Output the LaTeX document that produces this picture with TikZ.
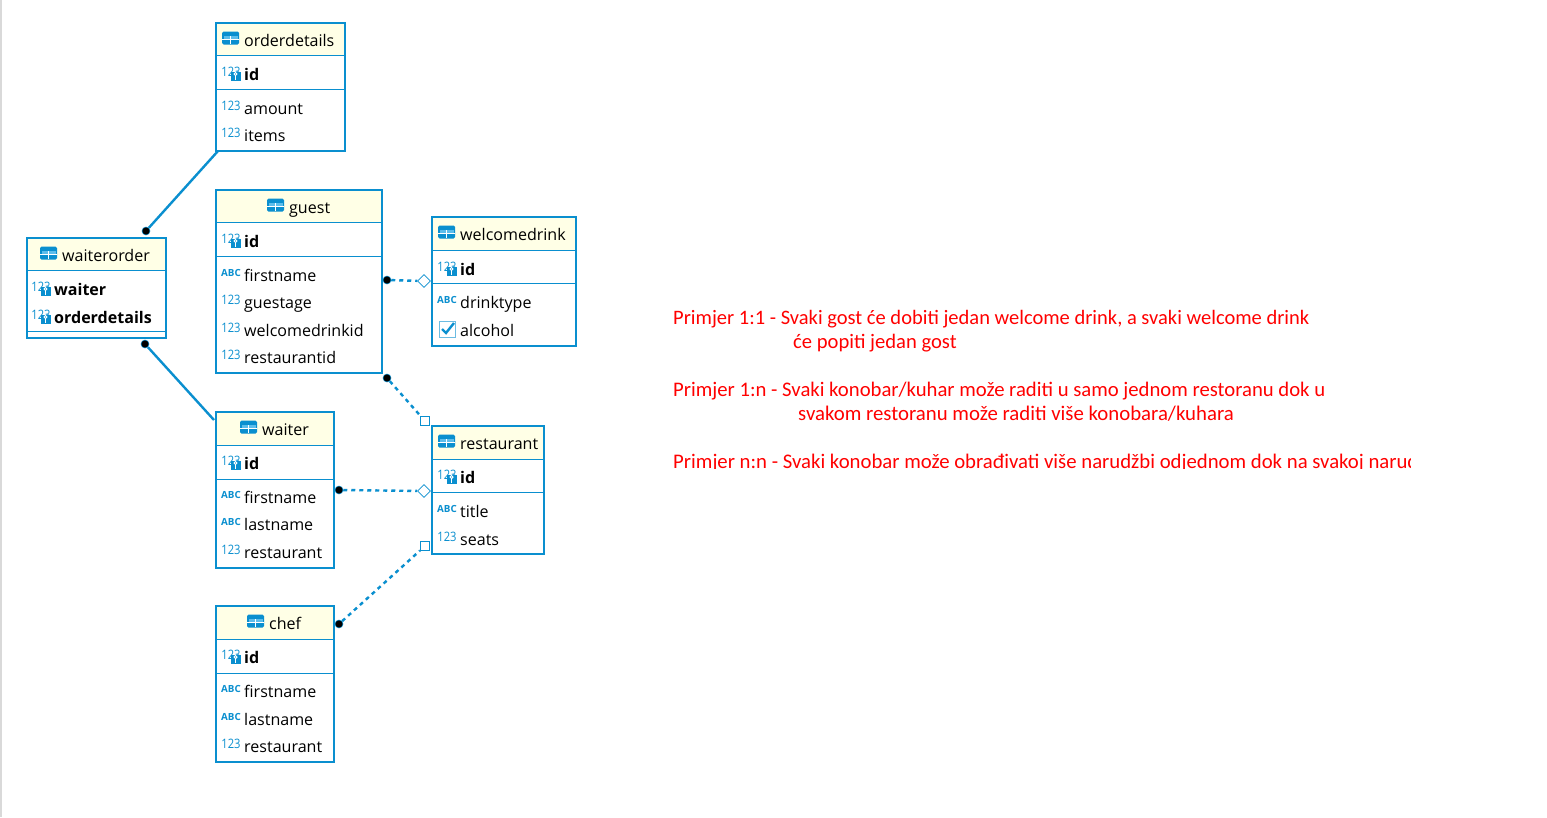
\documentclass[tikz,border=0pt]{standalone}
\usepackage{fontspec}
\setmainfont{Open Sans}
\newfontfamily\notefont{Carlito}
\usetikzlibrary{shapes.geometric}
\definecolor{erblue}{HTML}{0A8FCF}
\definecolor{erhead}{HTML}{FFFFE6}
\definecolor{erlight}{HTML}{5CBDEB}
\newcommand{\rowfont}{\fontsize{16.05}{18}\selectfont}
\tikzset{
  x=1pt,y=-1pt,
  tablebox/.style={draw=erblue,line width=2.4pt,fill=white,anchor=north west,inner sep=0pt,outer sep=0pt,rectangle},
  rowtext/.style={anchor=base west,inner sep=0pt,text=black,font=\rowfont},
  icontext/.style={anchor=center,inner sep=0pt,text=erblue},
  enddot/.style={circle,fill=black,draw=erblue,line width=0.5pt,minimum size=8pt,inner sep=0pt},
  endsquare/.style={rectangle,fill=white,draw=erblue,line width=1pt,minimum size=9pt,inner sep=0pt},
  enddiamond/.style={diamond,fill=white,draw=erblue,line width=0.8pt,minimum width=13pt,minimum height=13pt,inner sep=0pt},
  solidlink/.style={draw=erblue,line width=2.4pt},
  dashlink/.style={draw=erblue,line width=2.4pt,dash pattern=on 4pt off 4pt},
  notetext/.style={anchor=base west,inner sep=0pt,text=red,font=\notefont\fontsize{#1}{24}\selectfont},
}
% name, x0, y0, x1, y1, y of header rule, y of key rule, icon x, title
\newcommand{\ertable}[9]{%
  \node[tablebox,minimum width=#4pt-#2pt,minimum height=#5pt-#3pt] (#1) at (#2,#3) {};
  \fill[erhead] (#2+1.2,#3+1.2) rectangle (#4-1.2,#6);
  \draw[erblue,line width=1pt] (#2,#6) -- (#4,#6);
  \draw[erblue,line width=1pt] (#2,#7) -- (#4,#7);
  \pgfmathsetmacro{\midy}{#3+16}
  \tableicon{#8}{\midy}
  \node[rowtext] (#1-title) at (#8+22,\midy+7.2) {#9};
}
\newcommand{\tableicon}[2]{%
  \fill[erblue,rounded corners=1.5pt] (#1,#2-7.5) rectangle (#1+17,#2+5.5);
  \fill[erlight] (#1+1.5,#2-3.5) rectangle (#1+8,#2-0.5);
  \fill[erlight] (#1+9,#2-3.5) rectangle (#1+15.5,#2-0.5);
  \fill[white] (#1,#2-0.5) rectangle (#1+17,#2+0.5);
  \fill[white] (#1+8,#2-3.5) rectangle (#1+9,#2+4.5);
}
\newcommand{\numicon}[3]{\node[icontext,font=\fontsize{13}{13}\selectfont] (#3) at (#1+10,#2-2.5) {\scalebox{.86}[1]{123}};}
\newcommand{\abcicon}[3]{\node[icontext,font=\bfseries\fontsize{9.8}{10}\selectfont] (#3) at (#1+10,#2-2) {ABC};}
\newcommand{\keyicon}[2]{%
  \fill[erblue] (#1+9.5,#2-2.5) rectangle (#1+19.5,#2+7);
  \draw[white,line width=0.9pt] (#1+14.5,#2) circle (1.6);
  \draw[white,line width=0.9pt] (#1+14.5,#2+1.5) -- (#1+14.5,#2+5.5);
}
% table name, x, y, label
\newcommand{\keyrow}[4]{%
  \numicon{#2}{#3}{#1-#4-ic}\keyicon{#2}{#3}
  \node[rowtext,font=\bfseries\rowfont] (#1-#4) at (#2+23,#3+6.2) {#4};
}
\newcommand{\numrow}[4]{%
  \numicon{#2}{#3}{#1-#4-ic}
  \node[rowtext] (#1-#4) at (#2+23,#3+6.2) {#4};
}
\newcommand{\abcrow}[4]{%
  \abcicon{#2}{#3}{#1-#4-ic}
  \node[rowtext] (#1-#4) at (#2+23,#3+6.2) {#4};
}
\begin{document}
\begin{tikzpicture}
\useasboundingbox (0,0) rectangle (1547,817);
\fill[white] (0,0) rectangle (1547,817);
\fill[black!15] (0,0) rectangle (2,817);

% tables
\ertable{orderdetails}{216}{23}{345}{151}{55}{89}{222}{orderdetails}
\keyrow{orderdetails}{221}{74}{id}
\numrow{orderdetails}{221}{108}{amount}
\numrow{orderdetails}{221}{135}{items}

\ertable{guest}{216}{190}{382}{373}{222}{256}{267}{guest}
\keyrow{guest}{221}{241}{id}
\abcrow{guest}{221}{275}{firstname}
\numrow{guest}{221}{302}{guestage}
\numrow{guest}{221}{330}{welcomedrinkid}
\numrow{guest}{221}{357}{restaurantid}

\ertable{waiterorder}{27}{238}{166}{338}{270}{331}{40}{waiterorder}
\keyrow{waiterorder}{31}{289}{waiter}
\keyrow{waiterorder}{31}{317}{orderdetails}

\ertable{welcomedrink}{432}{217}{576}{346}{250}{283}{438}{welcomedrink}
\keyrow{welcomedrink}{437}{269}{id}
\abcrow{welcomedrink}{437}{302}{drinktype}
\draw[erblue!60,line width=1pt,fill=white] (439,321) rectangle (455,337);
\draw[erblue,line width=2.4pt] (442,329) -- (446,333) -- (454,323);
\node[rowtext] (welcomedrink-alcohol) at (460,336.2) {alcohol};

\ertable{waiter}{216}{412}{334}{568}{445}{479}{240}{waiter}
\keyrow{waiter}{221}{463}{id}
\abcrow{waiter}{221}{497}{firstname}
\abcrow{waiter}{221}{524}{lastname}
\numrow{waiter}{221}{552}{restaurant}

\ertable{restaurant}{432}{426}{544}{554}{459}{492}{438}{restaurant}
\keyrow{restaurant}{437}{477}{id}
\abcrow{restaurant}{437}{511}{title}
\numrow{restaurant}{437}{539}{seats}

\ertable{chef}{216}{606}{334}{762}{639}{673}{247}{chef}
\keyrow{chef}{221}{657}{id}
\abcrow{chef}{221}{691}{firstname}
\abcrow{chef}{221}{719}{lastname}
\numrow{chef}{221}{746}{restaurant}

% connector ends
\node[enddot] (d1) at (146,231) {};
\node[enddot] (d2) at (145,344) {};
\node[enddot] (d3) at (387,280) {};
\node[enddot] (d4) at (387,378) {};
\node[enddot] (d5) at (339,490) {};
\node[enddot] (d6) at (339,624) {};
\node[enddiamond] (e3) at (424,281) {};
\node[endsquare] (e4) at (425,421) {};
\node[enddiamond] (e5) at (424,491) {};
\node[endsquare] (e6) at (425,546) {};
\coordinate (c1) at ([shift={(2,0)}]orderdetails.south west);
\coordinate (c2) at ([shift={(-2,8)}]waiter.north west);

% connectors
\draw[solidlink] (c1) -- (d1);
\draw[solidlink] (d2) -- (c2);
\draw[dashlink] (d3) -- (e3);
\draw[dashlink] (d4) -- (e4);
\draw[dashlink] (d5) -- (e5);
\draw[dashlink] (d6) -- (e6);

% note
\begin{scope}
\clip (660,300) rectangle (1410,468);
\node[notetext=20.5] (n1) at (673,324.5) {Primjer 1:1 - Svaki gost će dobiti jedan welcome drink, a svaki welcome drink};
\node[notetext=20.6] (n2) at (793,348.5) {će popiti jedan gost};
\node[notetext=20.7] (n3) at (673,396.5) {Primjer 1:n - Svaki konobar/kuhar može raditi u samo jednom restoranu dok u};
\node[notetext=20.8] (n4) at (798,420.5) {svakom restoranu može raditi više konobara/kuhara};
\node[notetext=20.75] (n5) at (673,468.5) {Primjer n:n - Svaki konobar može obrađivati više narudžbi odjednom dok na svakoj narud};
\end{scope}
\end{tikzpicture}
\end{document}
